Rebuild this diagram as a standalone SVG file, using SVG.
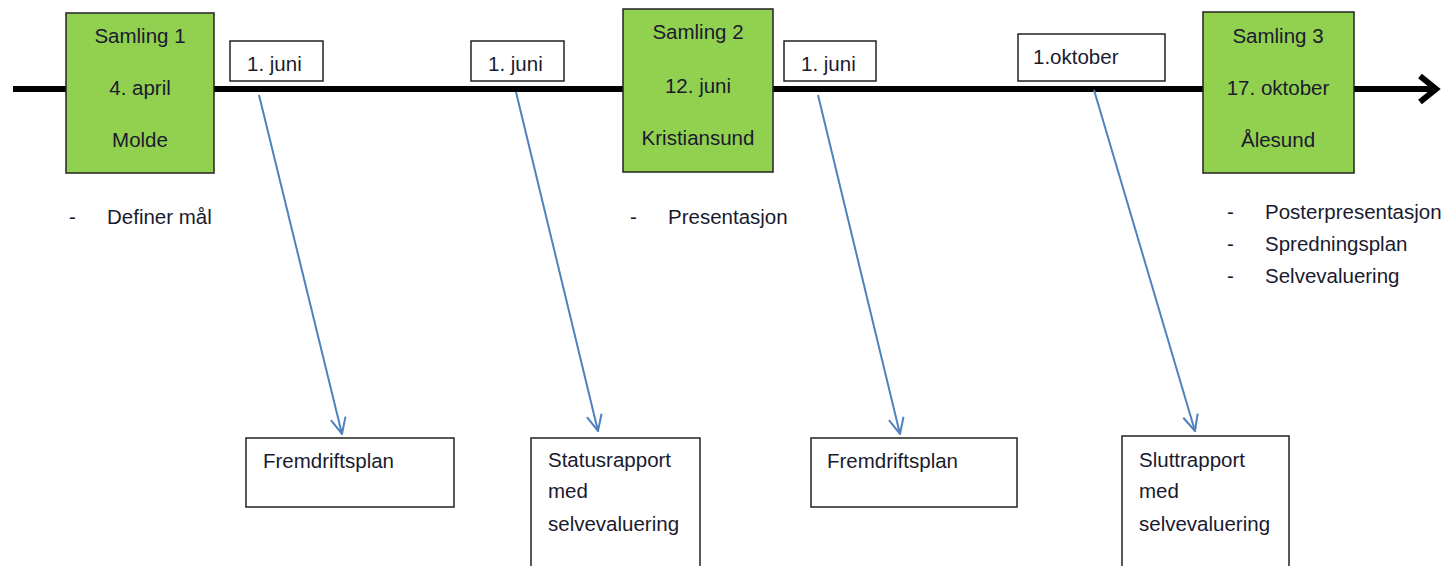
<svg xmlns="http://www.w3.org/2000/svg" width="1443" height="566" viewBox="0 0 1443 566">
<style>
text{font-family:"Liberation Sans",Arial,sans-serif;font-size:20.5px;fill:#1a1a2e}
.g{fill:#92d050;stroke:#222;stroke-width:1.5}
.w{fill:#fff;stroke:#222;stroke-width:1.5}
.c{text-anchor:middle}
.conn{stroke:#4f81bd;stroke-width:2;fill:none;marker-end:url(#ah)}
</style>
<defs>
<marker id="ah" markerUnits="userSpaceOnUse" viewBox="0 0 18 18" refX="17" refY="9" markerWidth="18" markerHeight="18" orient="auto">
<path d="M1,1.5 L17,9 L1,16.5" fill="none" stroke="#4f81bd" stroke-width="2"/>
</marker>
</defs>
<g id="timeline">
<line x1="13" y1="89" x2="1434" y2="89" stroke="#000" stroke-width="6"/>
<polyline points="1420,76 1436,89 1420,102" fill="none" stroke="#000" stroke-width="6"/>
</g>
<g id="connectors">
<line class="conn" x1="259" y1="95" x2="342" y2="434"/>
<line class="conn" x1="516" y1="92" x2="598" y2="431"/>
<line class="conn" x1="818" y1="95" x2="900" y2="434"/>
<line class="conn" x1="1094" y1="90" x2="1195" y2="431"/>
</g>
<g id="samling1">
<rect class="g" x="66" y="13" width="148" height="160"/>
<text class="c" x="140" y="43">Samling 1</text>
<text class="c" x="140" y="95">4. april</text>
<text class="c" x="140" y="147">Molde</text>
</g>
<g id="date1">
<rect class="w" x="230" y="41" width="93" height="40"/>
<text x="247" y="71">1. juni</text>
</g>
<g id="date2">
<rect class="w" x="471" y="41" width="93" height="40"/>
<text x="488" y="71">1. juni</text>
</g>
<g id="samling2">
<rect class="g" x="623" y="9" width="150" height="163"/>
<text class="c" x="698" y="39">Samling 2</text>
<text class="c" x="698" y="93">12. juni</text>
<text class="c" x="698" y="145">Kristiansund</text>
</g>
<g id="date3">
<rect class="w" x="784" y="41" width="92" height="40"/>
<text x="801" y="71">1. juni</text>
</g>
<g id="date4">
<rect class="w" x="1018" y="34" width="147" height="47"/>
<text x="1033" y="64">1.oktober</text>
</g>
<g id="samling3">
<rect class="g" x="1203" y="12" width="151" height="161"/>
<text class="c" x="1278" y="43">Samling 3</text>
<text class="c" x="1278" y="95">17. oktober</text>
<text class="c" x="1278" y="147">Ålesund</text>
</g>
<g id="bullets1">
<text x="69" y="224">-</text>
<text x="107" y="224">Definer mål</text>
</g>
<g id="bullets2">
<text x="630" y="224">-</text>
<text x="668" y="224">Presentasjon</text>
</g>
<g id="bullets3">
<text x="1227" y="219">-</text>
<text x="1265" y="219">Posterpresentasjon</text>
<text x="1227" y="251">-</text>
<text x="1265" y="251">Spredningsplan</text>
<text x="1227" y="283">-</text>
<text x="1265" y="283">Selvevaluering</text>
</g>
<g id="out1">
<rect class="w" x="246" y="438" width="208" height="69"/>
<text x="263" y="468">Fremdriftsplan</text>
</g>
<g id="out2">
<rect class="w" x="531" y="438" width="169" height="140"/>
<text x="548" y="467">Statusrapport</text>
<text x="548" y="498">med</text>
<text x="548" y="531">selvevaluering</text>
</g>
<g id="out3">
<rect class="w" x="811" y="438" width="206" height="69"/>
<text x="827" y="468">Fremdriftsplan</text>
</g>
<g id="out4">
<rect class="w" x="1122" y="436" width="167" height="142"/>
<text x="1139" y="467">Sluttrapport</text>
<text x="1139" y="498">med</text>
<text x="1139" y="531">selvevaluering</text>
</g>
</svg>
